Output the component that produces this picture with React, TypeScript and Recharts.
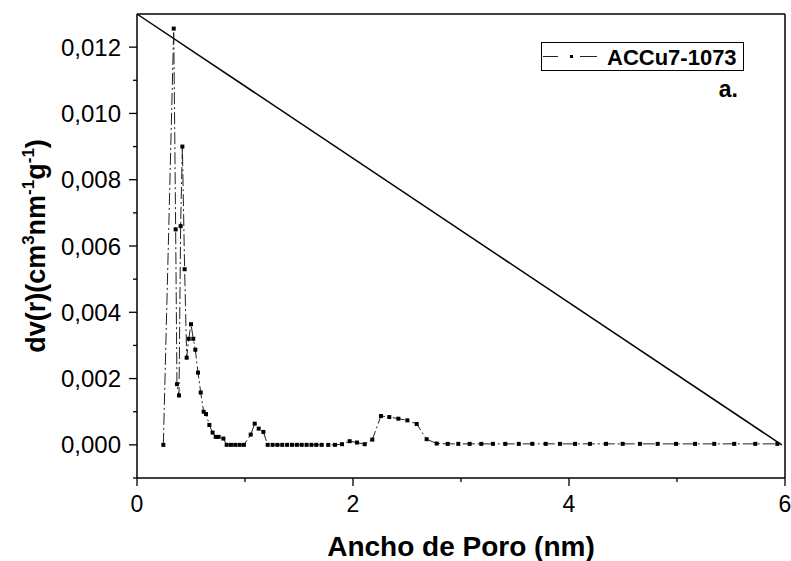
import React from 'react';
import { ScatterChart, Scatter, XAxis, YAxis, ReferenceLine } from 'recharts';

const poreWidth = [
  0.244, 0.34, 0.358, 0.37, 0.389, 0.404, 0.42, 0.441, 0.46, 0.479, 0.5, 0.521, 0.54, 0.565, 0.59,
  0.617, 0.639, 0.67, 0.7, 0.729, 0.756, 0.8, 0.83, 0.87, 0.91, 0.95, 0.99, 1.053, 1.09, 1.127, 1.17,
  1.21, 1.255, 1.3, 1.345, 1.39, 1.435, 1.48, 1.525, 1.57, 1.615, 1.66, 1.71, 1.771, 1.833, 1.898,
  1.969, 2.037, 2.108, 2.179, 2.259, 2.336, 2.42, 2.503, 2.59, 2.682, 2.775, 2.877, 2.975, 3.08,
  3.188, 3.296, 3.41, 3.535, 3.66, 3.784, 3.917, 4.056, 4.194, 4.343, 4.497, 4.657, 4.821, 4.991,
  5.167, 5.345, 5.53, 5.725, 5.929,
];

const dvr = [
  0, 0.01256, 0.0065, 0.00183, 0.00149, 0.0066, 0.009, 0.0053, 0.00263, 0.0032, 0.00364, 0.0032,
  0.00287, 0.00218, 0.00158, 0.001, 0.00093, 0.0006, 0.00037, 0.00024, 0.00024, 0.00019, 0, 0, 0, 0,
  0, 0.00031, 0.00064, 0.00049, 0.00039, 0, 0, 0, 0, 0, 0, 0, 0, 0, 0, 0, 0, 0, 0, 0.00002, 0.00011,
  0.00007, 0.00002, 0.00016, 0.00087, 0.00084, 0.00079, 0.00074, 0.00063, 0.00017, 0.00004, 0.00003,
  0.00003, 0.00003, 0.00003, 0.00003, 0.00003, 0.00003, 0.00003, 0.00003, 0.00003, 0.00003, 0.00003,
  0.00003, 0.00003, 0.00003, 0.00003, 0.00003, 0.00003, 0.00003, 0.00003, 0.00003, 0.00003,
];

const diagonal = [
  { x: 0, y: 0.013 },
  { x: 5.97, y: 0 },
];

const xTicks = [0, 1, 2, 3, 4, 5, 6];
const xMajorLabels = [0, 2, 4, 6];
const yTicks = [-0.001, 0, 0.001, 0.002, 0.003, 0.004, 0.005, 0.006, 0.007, 0.008, 0.009, 0.01, 0.011, 0.012];
const yMajorLabels = [0, 0.002, 0.004, 0.006, 0.008, 0.01, 0.012];

const seriesName = 'ACCu7-1073';
const panelTag = 'a.';
const xTitle = 'Ancho de Poro (nm)';

const data = poreWidth.map((x, i) => ({ x, y: dvr[i] }));

const FONT = '"Liberation Sans", Arial, sans-serif';

const YTick = (props: any) => {
  const { x, y, payload } = props;
  const v = payload.value;
  const isMajor = yMajorLabels.some((m) => Math.abs(m - v) < 1e-9);
  const len = isMajor ? 8 : 4;
  return (
    <g>
      <line x1={x} x2={x - len} y1={y} y2={y} stroke="#000" strokeWidth={1.3} />
      {isMajor && (
        <text x={x - 16} y={y} dy="0.36em" textAnchor="end" fontFamily={FONT} fontSize={24} fill="#000">
          {v.toFixed(3).replace('.', ',')}
        </text>
      )}
    </g>
  );
};

const XTick = (props: any) => {
  const { x, y, payload } = props;
  const v = payload.value;
  const isMajor = xMajorLabels.includes(v);
  const len = isMajor ? 8 : 4;
  return (
    <g>
      <line x1={x} x2={x} y1={y} y2={y + len} stroke="#000" strokeWidth={1.3} />
      {isMajor && (
        <text x={x} y={y + 33.5} textAnchor="middle" fontFamily={FONT} fontSize={23} fill="#000">
          {String(v)}
        </text>
      )}
    </g>
  );
};

const SquareMarker = (props: any) => {
  const { cx, cy } = props;
  if (cx == null || cy == null) return <g />;
  return <rect x={cx - 2} y={cy - 2} width={4} height={4} fill="#000" />;
};

export default function App() {
  return (
    <div style={{ position: 'absolute', left: 0, top: 0, width: 791, height: 561, background: '#fff' }}>
      <ScatterChart width={791} height={561} margin={{ top: 14, right: 6, bottom: 0, left: 0 }}>
        <XAxis
          type="number"
          dataKey="x"
          domain={[0, 6]}
          ticks={xTicks}
          interval={0}
          height={83}
          tickSize={0}
          tickMargin={0}
          tick={<XTick />}
          axisLine={{ stroke: '#000', strokeWidth: 1.5 }}
          allowDataOverflow
        />
        <YAxis
          type="number"
          dataKey="y"
          domain={[-0.001, 0.013]}
          ticks={yTicks}
          interval={0}
          width={137}
          tickSize={0}
          tickMargin={0}
          tick={<YTick />}
          axisLine={{ stroke: '#000', strokeWidth: 1.5 }}
          allowDataOverflow
        />
        <ReferenceLine y={0.013} stroke="#000" strokeWidth={1.5} />
        <ReferenceLine x={6} stroke="#000" strokeWidth={1.5} />
        <ReferenceLine segment={diagonal} stroke="#000" strokeWidth={1.5} />
        <Scatter
          name={seriesName}
          data={data}
          isAnimationActive={false}
          line={{ stroke: '#222', strokeWidth: 1, strokeDasharray: '12 3 2 3' }}
          lineType="joint"
          shape={<SquareMarker />}
        />
      </ScatterChart>
      <svg
        width={791}
        height={561}
        style={{ position: 'absolute', left: 0, top: 0, pointerEvents: 'none' }}
      >
        <text
          transform="translate(45,246) rotate(-90)"
          textAnchor="middle"
          fontFamily={FONT}
          fontWeight="bold"
          fontSize={27}
          fill="#000"
        >
          dv(r)(cm<tspan dy={-11} fontSize={17}>3</tspan>
          <tspan dy={11}>nm</tspan>
          <tspan dy={-11} fontSize={17}>-1</tspan>
          <tspan dy={11}>g</tspan>
          <tspan dy={-11} fontSize={17}>-1</tspan>
          <tspan dy={11}>)</tspan>
        </text>
        <text x={461} y={556} textAnchor="middle" fontFamily={FONT} fontWeight="bold" fontSize={28} fill="#000">
          {xTitle}
        </text>
        <rect x={541.5} y={42.5} width={202} height={28} fill="#fff" stroke="#000" strokeWidth={1} />
        <line x1={543} x2={558} y1={56.5} y2={56.5} stroke="#222" strokeWidth={1} />
        <rect x={570} y={55} width={3} height={3} fill="#000" />
        <line x1={580} x2={597} y1={56.5} y2={56.5} stroke="#222" strokeWidth={1} />
        <text x={607} y={65} fontFamily={FONT} fontWeight="bold" fontSize={22} fill="#000">
          {seriesName}
        </text>
        <text x={738} y={97} textAnchor="end" fontFamily={FONT} fontWeight="bold" fontSize={23} fill="#000">
          {panelTag}
        </text>
      </svg>
    </div>
  );
}
